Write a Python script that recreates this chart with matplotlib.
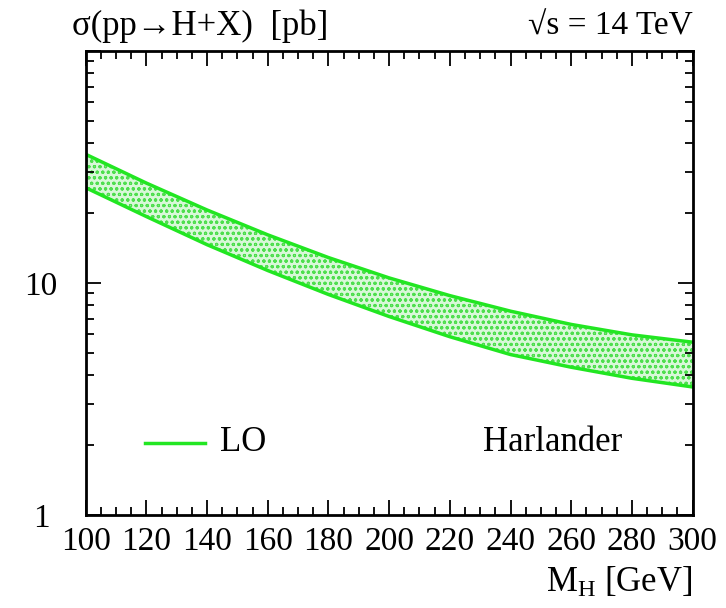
import matplotlib
matplotlib.use("Agg")
import matplotlib.pyplot as plt
from matplotlib.ticker import FixedLocator, NullFormatter, LogLocator

# Data (Higgs mass in GeV, cross section in pb)
mass = [100, 120, 140, 160, 180, 200, 220, 240, 260, 280, 300]
sigma_upper = [35.8, 26.9, 20.6, 16.1, 12.85, 10.5, 8.81, 7.55, 6.62, 5.97, 5.55]
sigma_lower = [25.7, 19.3, 14.6, 11.3, 8.91, 7.16, 5.86, 4.91, 4.33, 3.88, 3.56]
x_major = [100, 120, 140, 160, 180, 200, 220, 240, 260, 280, 300]
y_major = [1, 10, 100]
y_labels = ["1", "10", ""]

plt.rcParams['font.family'] = ['Liberation Serif', 'DejaVu Serif']
plt.rcParams['mathtext.fontset'] = 'custom'
plt.rcParams['mathtext.rm'] = 'Liberation Serif'
plt.rcParams['mathtext.it'] = 'Liberation Serif:italic'
plt.rcParams['hatch.linewidth'] = 0.8

green = '#22e622'

fig = plt.figure(figsize=(7.26, 6.08), dpi=100)
ax = fig.add_axes([0.118, 0.153, 0.836, 0.7636])

ax.fill_between(mass, sigma_lower, sigma_upper, facecolor='#d8f8d8',
                edgecolor='#4ede4e', hatch='ooo', linewidth=0)
ax.plot(mass, sigma_upper, color=green, lw=2.5)
ax.plot(mass, sigma_lower, color=green, lw=2.5)

ax.set_yscale('log')
ax.set_xlim(100, 300)
ax.set_ylim(1, 100)

ax.set_xticks(x_major)
ax.set_xticklabels([str(v) for v in x_major])
ax.xaxis.set_minor_locator(FixedLocator(list(range(100, 301, 5))))
ax.set_yticks(y_major)
ax.set_yticklabels(y_labels)
ax.yaxis.set_minor_locator(LogLocator(base=10, subs=range(2, 10)))
ax.yaxis.set_minor_formatter(NullFormatter())

for side in ax.spines.values():
    side.set_linewidth(2)

ax.tick_params(which='both', direction='in', top=True, right=True,
               width=1.3, colors='black')
ax.tick_params(which='major', length=11)
ax.tick_params(which='minor', length=6)
ax.tick_params(axis='x', which='major', labelsize=24, pad=8)
ax.tick_params(axis='y', which='major', labelsize=24, pad=32)
for lab in ax.get_yticklabels():
    lab.set_horizontalalignment('center')

fig.text(0.099, 0.943, "σ(pp→H+X)  [pb]", fontsize=25, ha='left',
         va='baseline')
fig.text(0.954, 0.943, "√s = 14 TeV", fontsize=24, ha='right',
         va='baseline')
fig.text(0.954, 0.027, r"M$_{\rm H}$ [GeV]", fontsize=25, ha='right',
         va='baseline')

# legend-like annotation
ax.plot([119.6, 139.4], [2.05, 2.05], color=green, lw=2.5)
ax.text(144.3, 2.05, "LO", fontsize=25, va='center', ha='left')
ax.text(230.9, 2.05, "Harlander", fontsize=25, va='center', ha='left')

fig.savefig("out.png", dpi=100)
